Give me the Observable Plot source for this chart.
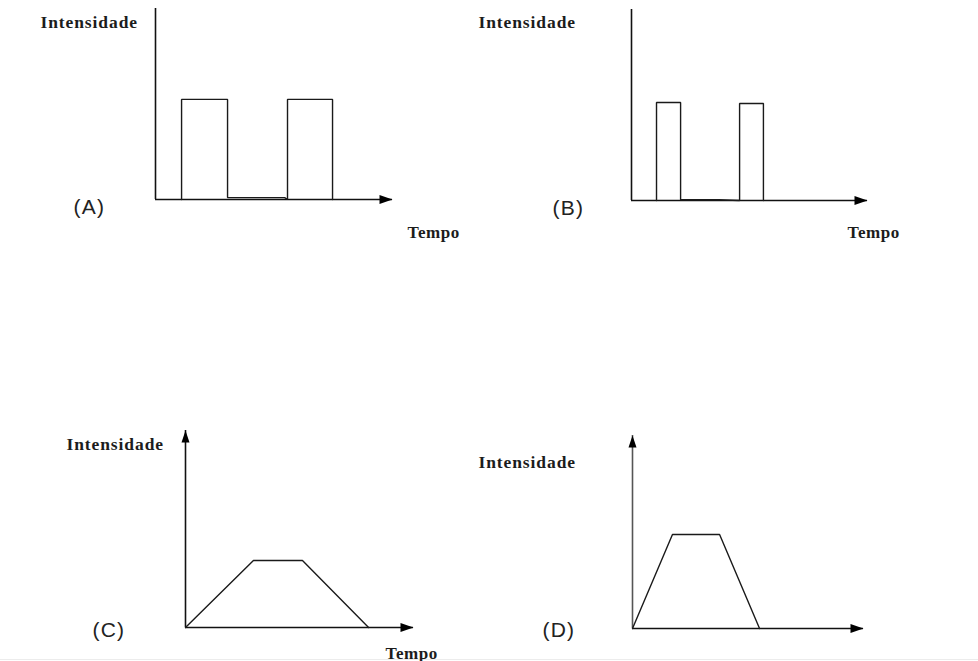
<!DOCTYPE html>
<html>
<head>
<meta charset="utf-8">
<script src="https://cdn.jsdelivr.net/npm/d3@7"></script>
<script src="https://cdn.jsdelivr.net/npm/@observablehq/plot@0.6"></script>
<style>
  html, body { margin: 0; padding: 0; background: #fff; }
  #page { position: relative; width: 978px; height: 661px; background: #fff; overflow: hidden; }
  #page svg { position: absolute; left: 0; top: 0; }
  #edge { position: absolute; left: 0; top: 659px; width: 978px; height: 1px; background: #ececec; }
</style>
</head>
<body>
<div id="page"><div id="edge"></div></div>
<script>
// ---- data (time, intensity in arbitrary units, axes run 0..10) ----
const tMax = 10;
const iMax = 10;
const panelLabels = ["(A)", "(B)", "(C)", "(D)"];
const yTitle = "Intensidade";
const xTitle = "Tempo";

const timeA = [1.10, 1.10, 3.04, 3.04, 5.45, 5.57, 5.57, 7.47, 7.47];
const intensA = [0, 5.24, 5.24, 0.10, 0.10, 0, 5.24, 5.24, 0];

const timeB = [1.06, 1.06, 2.08, 2.08, 3.69, 4.58, 4.58, 5.59, 5.59];
const intensB = [0, 5.13, 5.13, 0.04, 0.04, 0, 5.08, 5.08, 0];

const timeC = [0, 2.98, 5.13, 8.03];
const intensC = [0, 3.40, 3.40, 0];

const timeD = [0, 1.73, 3.77, 5.50];
const intensD = [0, 4.87, 4.87, 0];

// ---- arrow head symbols ----
const arrowRight = {draw(ctx) { ctx.moveTo(-6.5, -4.5); ctx.lineTo(6.5, 0); ctx.lineTo(-6.5, 4.5); ctx.closePath(); }};
const arrowUp = {draw(ctx) { ctx.moveTo(-4, 6); ctx.lineTo(0, -6); ctx.lineTo(4, 6); ctx.closePath(); }};

const serif = "'Liberation Serif', 'DejaVu Serif', serif";
const sans = "'Liberation Sans', Arial, sans-serif";

// layout of each panel: frame margins in the 978x661 page and label offsets
const panels = [
  {t: timeA, v: intensA, m: [8, 586, 462, 155], upArrow: false, yAxisColor: "#111",
   yT: [-115, 19], lab: [-82, 205], xT: [252, 229]},
  {t: timeB, v: intensB, m: [9, 111, 461, 631], upArrow: false, yAxisColor: "#111",
   yT: [-153, 18], lab: [-79, 205], xT: [216, 228]},
  {t: timeC, v: intensC, m: [430, 565, 34, 185], upArrow: true, yAxisColor: "#111",
   yT: [-119, 19], lab: [-93, 206], xT: [200, 228]},
  {t: timeD, v: intensD, m: [435, 115, 33, 632], upArrow: true, yAxisColor: "#555",
   yT: [-154, 32], lab: [-90, 201], xT: null}
];

const page = document.getElementById("page");

panels.forEach((p, i) => {
  const data = p.t.map((t, k) => ({t, v: p.v[k]}));
  const marks = [
    Plot.ruleY([0], {stroke: "#111", strokeWidth: 1.6}),
    Plot.ruleX([0], {stroke: p.yAxisColor, strokeWidth: 1.6}),
    Plot.line(data, {x: "t", y: "v", stroke: "#1a1a1a", strokeWidth: 1.4, strokeLinejoin: "miter"}),
    Plot.dot([{x: tMax, y: 0}], {x: "x", y: "y", symbol: arrowRight, fill: "#000", stroke: null, dx: -6.5}),
    Plot.text([yTitle], {frameAnchor: "top-left", text: d => d, dx: p.yT[0], dy: p.yT[1],
      textAnchor: "start", lineAnchor: "bottom", fontFamily: serif, fontWeight: "bold", fontSize: 17.5, fill: "#1c1c1c"}),
    Plot.text([panelLabels[i]], {frameAnchor: "top-left", text: d => d, dx: p.lab[0], dy: p.lab[1],
      textAnchor: "start", lineAnchor: "bottom", fontFamily: sans, fontSize: 21, fill: "#222"})
  ];
  if (p.upArrow) {
    marks.push(Plot.dot([{x: 0, y: iMax}], {x: "x", y: "y", symbol: arrowUp, fill: "#000", stroke: null, dy: 6}));
  }
  if (p.xT) {
    marks.push(Plot.text([xTitle], {frameAnchor: "top-left", text: d => d, dx: p.xT[0], dy: p.xT[1],
      textAnchor: "start", lineAnchor: "bottom", fontFamily: serif, fontWeight: "bold", fontSize: 17, fill: "#1c1c1c"}));
  }
  const svg = Plot.plot({
    width: 978,
    height: 661,
    marginTop: p.m[0], marginRight: p.m[1], marginBottom: p.m[2], marginLeft: p.m[3],
    x: {domain: [0, tMax], axis: null},
    y: {domain: [0, iMax], axis: null},
    style: {background: "transparent", overflow: "visible"},
    marks
  });
  d3.select(svg).selectAll("text").each(function() {
    const s = this.textContent;
    if (s === yTitle) this.setAttribute("letter-spacing", "0.9");
    else if (s === xTitle) this.setAttribute("letter-spacing", "0.6");
    else this.setAttribute("letter-spacing", "1.2");
  });
  page.appendChild(svg);
});
</script>
</body>
</html>
